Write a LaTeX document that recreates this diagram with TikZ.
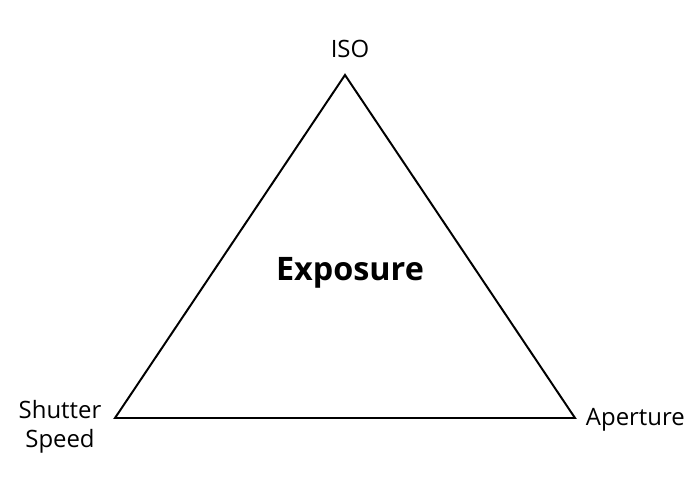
\documentclass[tikz,border=0pt]{standalone}
\usepackage{fontspec}
\setmainfont{Open Sans}
\usetikzlibrary{positioning}
\tikzset{
    triangle/.style={x=0.025cm, y=-0.025cm, line width=1.4pt, line join=miter},
    corner/.style={inner sep=0pt, minimum size=0pt},
    lbl/.style={font=\fontsize{17}{21}\selectfont, inner sep=0pt, align=center},
    title/.style={font=\fontsize{23}{27}\selectfont\bfseries, inner sep=0pt},
    }
\begin{document}
\begin{tikzpicture}[triangle]
            \useasboundingbox (0,0) rectangle (700,478);
            \node[corner] (top) at (345,75) {};
            \node[corner] (left) at (115,418) {};
            \node[corner] (right) at (575,418) {};

            \node[lbl, anchor=base] (iso) at (350,58) {ISO};
            \node[lbl] (shutter) at (60,427) {Shutter\\Speed};
            \node[lbl, anchor=base west] (aperture) at (585,426) {Aperture};
            \node[title, anchor=base] (exposure) at (350,281) {Exposure};

            \draw (top.center) -- (right.center) -- (left.center) -- cycle;
        \end{tikzpicture}
\end{document}
